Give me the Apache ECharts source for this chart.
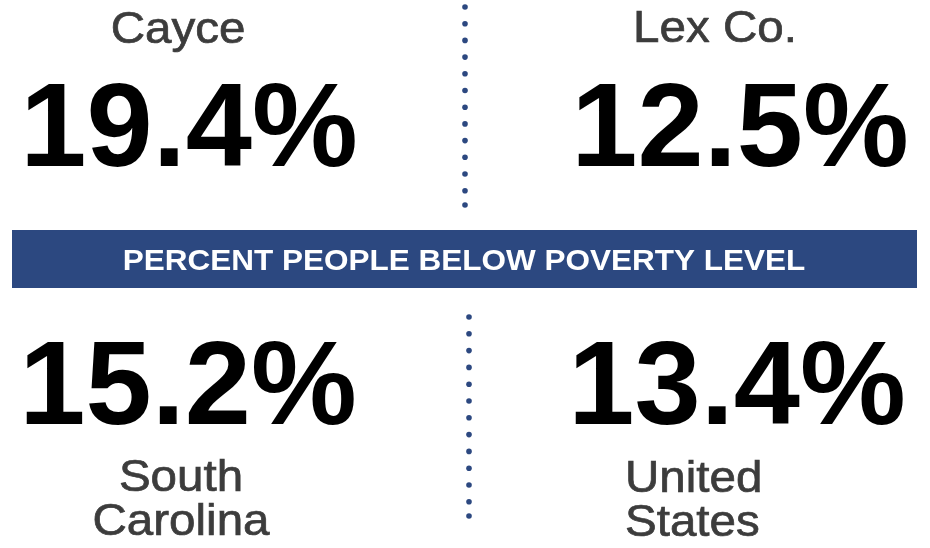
<!DOCTYPE html>
<html>
<head>
<meta charset="utf-8">
<script src="https://cdn.jsdelivr.net/npm/echarts@6/dist/echarts.min.js"></script>
<style>
  html, body { margin: 0; padding: 0; background: #fff; }
  #main { width: 930px; height: 548px; }
</style>
</head>
<body>
<div id="main"></div>
<script>
// data
const regions = ['Cayce', 'Lex Co.', 'South\nCarolina', 'United\nStates'];
const povertyRates = [19.4, 12.5, 15.2, 13.4];
const bannerTitle = 'PERCENT PEOPLE BELOW POVERTY LEVEL';

const blue = '#2c4880';
const grey = '#3c3c3c';

// layout of the four cells (number centre, label anchor)
const cells = [
    { nx: 189, ny: 133, lx: 178, ly: 31, align: 'center' },
    { nx: 740, ny: 133, lx: 715, ly: 30, align: 'center' },
    { nx: 188, ny: 391, lx: 181, ly: 501, align: 'center' },
    { nx: 737, ny: 391, lx: 625, ly: 502, align: 'left' }
];

const chart = echarts.init(document.getElementById('main'), null, { renderer: 'canvas' });

const elements = [];

// banner
elements.push({
    type: 'rect',
    shape: { x: 12, y: 230, width: 905, height: 58 },
    style: { fill: blue }
});
elements.push({
    type: 'text',
    x: 464, y: 262,
    scaleX: 1.05,
    style: {
        text: bannerTitle,
        fill: '#fff',
        font: 'bold 30px "Liberation Sans", Arial, sans-serif',
        align: 'center',
        verticalAlign: 'middle'
    }
});

// dotted dividers
function dots(x, y1, y2, step) {
    const list = [];
    let y = y1;
    while (y < y2 - step * 0.6) {
        list.push(y);
        y += step;
    }
    list.push(y2);
    list.forEach(function (yy) {
        elements.push({
            type: 'circle',
            shape: { cx: x, cy: yy, r: 2.8 },
            style: { fill: blue }
        });
    });
}
dots(465, 7, 205, 16.7);
dots(469, 317, 516, 16.8);

regions.forEach(function (name, i) {
    const c = cells[i];
    elements.push({
        type: 'text',
        x: c.nx, y: c.ny,
        style: {
            text: povertyRates[i].toFixed(1) + '%',
            fill: '#000',
            font: 'bold 119px "Liberation Sans", Arial, sans-serif',
            align: 'center',
            verticalAlign: 'middle'
        }
    });
    elements.push({
        type: 'text',
        x: c.lx, y: c.ly,
        scaleX: 1.08,
        style: {
            text: name,
            fill: grey,
            stroke: grey,
            lineWidth: 0.7,
            font: '44px "Liberation Sans", Arial, sans-serif',
            lineHeight: 44,
            align: c.align,
            verticalAlign: 'middle'
        }
    });
});

chart.setOption({
    backgroundColor: '#fff',
    animation: false,
    graphic: { elements: elements }
});
</script>
</body>
</html>
